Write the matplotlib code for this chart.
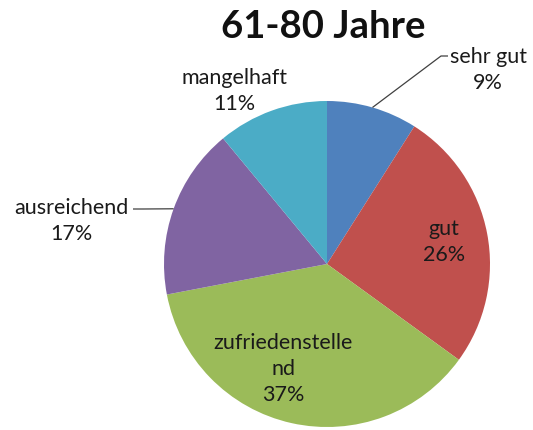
import numpy as np
import matplotlib
matplotlib.use("Agg")
import matplotlib.pyplot as plt

title = "61-80 Jahre"
categories = ["sehr gut", "gut", "zufriedenstelle\nnd", "ausreichend", "mangelhaft"]
values = [9, 26, 37, 17, 11]
colors = ["#4F81BD", "#C0504D", "#9BBB59", "#8064A2", "#4BACC6"]

W, H = 533, 431
fig = plt.figure(figsize=(W / 100, H / 100), dpi=100)
ax = fig.add_axes([0, 0, 1, 1])

cx, cy, r = 327, H - 265, 163
ax.pie(values, colors=colors, startangle=90, counterclock=False,
       center=(cx, cy), radius=r, frame=True,
       wedgeprops=dict(linewidth=0))
ax.set_xlim(0, W)
ax.set_ylim(0, H)
ax.set_aspect("equal")
ax.axis("off")

font = "Lato"
ax.text(323, H - 27, title, ha="center", va="center", fontsize=27.5,
        fontweight="bold", family=font, color="#111111")

# label positions (text centre) and optional leader-line elbow
label_pos = [(488, H - 70), (444, H - 242), (283, H - 369), (71, H - 221), (234, H - 91)]
leader_end = [(441, H - 57), None, None, (143, H - 210), None]
label_color = "#1a1a1a"

total = sum(values)
cum = 0
for cat, v, pos, end in zip(categories, values, label_pos, leader_end):
    mid = cum + v / 2
    cum += v
    ang = np.deg2rad(90 - 360 * mid / total)
    ax.text(pos[0], pos[1], f"{cat}\n{v}%", ha="center", va="center",
            fontsize=15.5, family=font, color=label_color, linespacing=1.38)
    if end is not None:
        ex, ey = cx + r * np.cos(ang), cy + r * np.sin(ang)
        dx = 7 if end[0] > cx else -10
        ax.plot([ex, end[0], end[0] + dx], [ey, end[1], end[1]],
                color="#404040", linewidth=0.9, solid_capstyle="butt")

fig.savefig("out.png", dpi=100)
